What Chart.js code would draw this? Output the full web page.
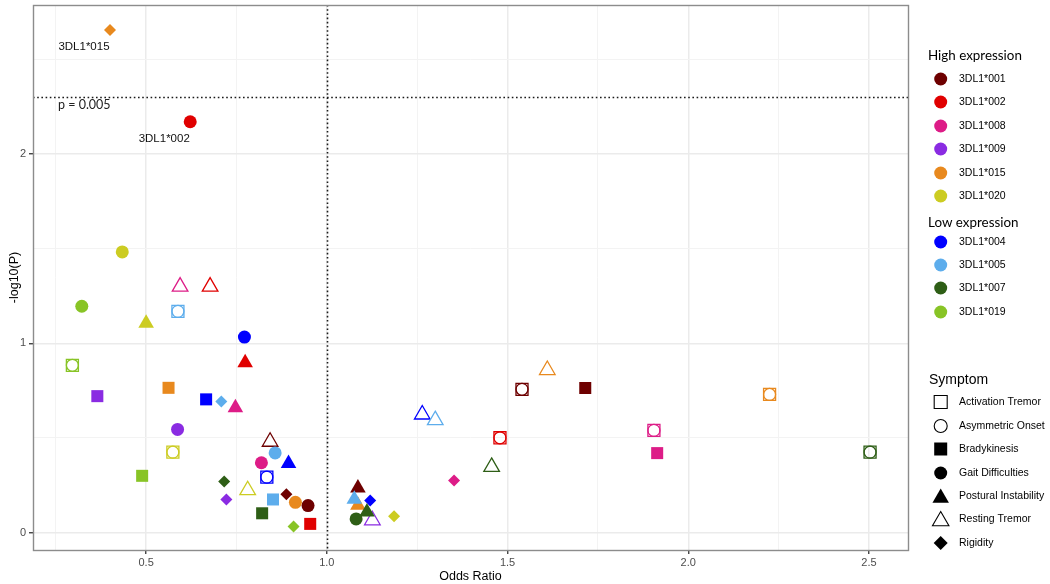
<!DOCTYPE html>
<html><head><meta charset="utf-8">
<script src="https://cdn.jsdelivr.net/npm/chart.js@4/dist/chart.umd.min.js"></script>
<style>html,body{margin:0;padding:0;background:#fff}#wrap{width:1050px;height:584px;position:relative}</style>
</head><body><div id="wrap"><canvas id="c" width="1050" height="584"></canvas></div>
<script>
// ---------- DATA ----------
const highAlleles = ['3DL1*001','3DL1*002','3DL1*008','3DL1*009','3DL1*015','3DL1*020'];
const lowAlleles  = ['3DL1*004','3DL1*005','3DL1*007','3DL1*019'];
const alleles = highAlleles.concat(lowAlleles);
const symptoms = ['Activation Tremor','Asymmetric Onset','Bradykinesis','Gait Difficulties','Postural Instability','Resting Tremor','Rigidity'];

// odds ratio / -log10(P) per symptom, in the order of `alleles` (null = not shown)
const activationTremorOR   = [1.540,1.479,1.905,null,2.225,0.574,0.834,0.588,2.503,0.296];
const activationTremorLogP = [0.757,0.501,0.540,null,0.730,0.425,0.293,1.169,0.425,0.884];
const asymmetricOnsetOR    = [1.540,1.479,1.905,null,2.225,0.574,0.834,0.588,2.503,0.296];
const asymmetricOnsetLogP  = [0.757,0.501,0.540,null,0.730,0.425,0.293,1.169,0.425,0.884];
const bradykinesisOR       = [1.715,0.954,1.914,0.365,0.562,null,0.666,0.851,0.821,0.489];
const bradykinesisLogP     = [0.764,0.046,0.420,0.721,0.765,null,0.704,0.175,0.102,0.300];
const gaitOR               = [0.948,0.622,0.819,0.587,0.913,0.434,0.772,0.857,1.081,0.322];
const gaitLogP             = [0.143,2.171,0.369,0.545,0.160,1.483,1.033,0.421,0.072,1.196];
const posturalOR           = [1.086,0.774,0.747,null,1.086,0.500,0.894,1.076,1.111,null];
const posturalLogP         = [0.236,0.898,0.660,null,0.145,1.106,0.365,0.176,0.109,null];
const restingTremorOR      = [0.843,0.677,0.594,1.126,1.610,0.781,1.264,1.300,1.456,null];
const restingTremorLogP    = [0.480,1.300,1.300,0.065,0.859,0.224,0.624,0.594,0.347,null];
const rigidityOR           = [0.888,null,1.352,0.722,0.400,1.186,1.120,0.708,0.716,0.908];
const rigidityLogP         = [0.203,null,0.275,0.175,2.656,0.086,0.169,0.693,0.270,0.032];

const xTickValues = [0.25,0.5,0.75,1.0,1.25,1.5,1.75,2.0,2.25,2.5];
const xTickLabels = ['', '0.5', '', '1.0', '', '1.5', '', '2.0', '', '2.5'];
const yTickValues = [0,0.5,1,1.5,2,2.5];
const yTickLabels = ['0','','1','','2',''];
const pThreshold = 0.005;
const labelledPoints = [{text:'3DL1*015', x:0.400, y:2.656}, {text:'3DL1*002', x:0.622, y:2.171}];

// ---------- STYLE ----------
const alleleColors = ['#6E0000','#E00000','#DD1C87','#8A2BE2','#E8891E','#CCCC22','#0000FF','#5DADEC','#2E5E16','#88C426'];
const symStyle = {
  'Activation Tremor':   {ps:'rect',     r:8.5, fill:false},
  'Asymmetric Onset':    {ps:'circle',   r:6,   fill:false},
  'Bradykinesis':        {ps:'rect',     r:8.5, fill:true},
  'Gait Difficulties':   {ps:'circle',   r:6.5, fill:true},
  'Postural Instability':{ps:'triangle', r:9,   fill:true},
  'Resting Tremor':      {ps:'triangle', r:9,   fill:false},
  'Rigidity':            {ps:'rectRot',  r:6,   fill:true}
};
const seriesData = {
  'Activation Tremor':[activationTremorOR, activationTremorLogP],
  'Asymmetric Onset':[asymmetricOnsetOR, asymmetricOnsetLogP],
  'Bradykinesis':[bradykinesisOR, bradykinesisLogP],
  'Gait Difficulties':[gaitOR, gaitLogP],
  'Postural Instability':[posturalOR, posturalLogP],
  'Resting Tremor':[restingTremorOR, restingTremorLogP],
  'Rigidity':[rigidityOR, rigidityLogP]
};

const datasets = symptoms.map(s => {
  const [ors, ps] = seriesData[s];
  const pts = [];
  alleles.forEach((a,i) => { if (ors[i] != null) pts.push({x:ors[i], y:ps[i], allele:i}); });
  const st = symStyle[s];
  return {
    label: s,
    data: pts,
    pointStyle: st.ps,
    pointRadius: st.r,
    pointHoverRadius: st.r,
    pointBackgroundColor: c => st.fill ? alleleColors[c.raw.allele] : 'rgba(0,0,0,0)',
    pointBorderColor: c => alleleColors[c.raw.allele],
    pointBorderWidth: st.fill ? 0 : 1.3,
    showLine: false
  };
});

function drawSymbol(ctx, ps, x, y, r, fill, color, lw) {
  ctx.save();
  ctx.fillStyle = color; ctx.strokeStyle = color; ctx.lineWidth = lw || 1.2;
  ctx.beginPath();
  if (ps === 'circle') ctx.arc(x, y, r, 0, Math.PI*2);
  else if (ps === 'rect') { const h = r; ctx.rect(x-h, y-h, 2*h, 2*h); }
  else if (ps === 'triangle') { ctx.moveTo(x, y-r); ctx.lineTo(x+r*0.866, y+r/2); ctx.lineTo(x-r*0.866, y+r/2); ctx.closePath(); }
  else if (ps === 'rectRot') { ctx.moveTo(x, y-r); ctx.lineTo(x+r, y); ctx.lineTo(x, y+r); ctx.lineTo(x-r, y); ctx.closePath(); }
  if (fill) ctx.fill(); else ctx.stroke();
  ctx.restore();
}

const overlay = {
  id:'overlay',
  beforeDatasetsDraw(chart) {
    const {ctx, chartArea:a, scales:{x, y}} = chart;
    ctx.save();
    ctx.strokeStyle = '#1a1a1a'; ctx.lineWidth = 1.6; ctx.setLineDash([1.6, 2.6]);
    const px = Math.round(x.getPixelForValue(1.0)) + 0.5;
    ctx.beginPath(); ctx.moveTo(px, a.top); ctx.lineTo(px, a.bottom); ctx.stroke();
    const py = Math.round(y.getPixelForValue(-Math.log10(pThreshold))) + 0.5;
    ctx.beginPath(); ctx.moveTo(a.left, py); ctx.lineTo(a.right, py); ctx.stroke();
    ctx.restore();
  },
  afterDatasetsDraw(chart) {
    const {ctx, chartArea:a, scales:{x, y}} = chart;
    ctx.save();
    ctx.fillStyle = '#111'; ctx.font = '11.5px "Liberation Sans", Arial, sans-serif';
    ctx.textAlign = 'center'; ctx.textBaseline = 'middle';
    labelledPoints.forEach(p => {
      ctx.fillText(p.text, x.getPixelForValue(p.x) - 26, y.getPixelForValue(p.y) + 17);
    });
    ctx.textAlign = 'left'; ctx.font = '12.5px Lato, "Open Sans", sans-serif'; ctx.fillStyle = '#222';
    ctx.fillText('p = ' + pThreshold, a.left + 25, y.getPixelForValue(-Math.log10(pThreshold)) + 8);
    // panel border
    ctx.strokeStyle = '#8c8c8c'; ctx.lineWidth = 1.4;
    ctx.strokeRect(a.left + 0.5, a.top + 0.5, a.right - a.left, a.bottom - a.top);
    ctx.restore();
  },
  afterDraw(chart) {
    const ctx = chart.ctx;
    ctx.save();
    ctx.textBaseline = 'middle'; ctx.textAlign = 'left'; ctx.fillStyle = '#000';
    const sx = 940.7, tx = 959;
    ctx.font = '13.4px Lato, "Open Sans", sans-serif';
    ctx.fillText('High expression', 928, 56);
    ctx.fillText('Low expression', 928, 223);
    const highY = [79,102,126,149,173,196];
    const lowY = [242,265,288,312];
    ctx.font = '10.5px "Liberation Sans", Arial, sans-serif';
    highAlleles.forEach((a,i) => {
      drawSymbol(ctx, 'circle', sx, highY[i], 6.5, true, alleleColors[i]);
      ctx.fillStyle = '#000'; ctx.fillText(a, tx, highY[i]);
    });
    lowAlleles.forEach((a,i) => {
      drawSymbol(ctx, 'circle', sx, lowY[i], 6.5, true, alleleColors[6+i]);
      ctx.fillStyle = '#000'; ctx.fillText(a, tx, lowY[i]);
    });
    ctx.font = '14px "Liberation Sans", Arial, sans-serif';
    ctx.fillText('Symptom', 929, 380);
    const symY = [402,426,449,473,496,519,543];
    const legSym = {
      'Activation Tremor':['rect',6.5,false],'Asymmetric Onset':['circle',6.5,false],'Bradykinesis':['rect',6.5,true],
      'Gait Difficulties':['circle',6.5,true],'Postural Instability':['triangle',9.5,true],'Resting Tremor':['triangle',9.5,false],'Rigidity':['rectRot',7,true]
    };
    ctx.font = '10.5px "Liberation Sans", Arial, sans-serif';
    symptoms.forEach((s,i) => {
      const [ps, r, f] = legSym[s];
      const yy = ps === 'triangle' ? symY[i] + 2 : symY[i];
      drawSymbol(ctx, ps, sx, yy, r, f, '#000', 1.1);
      ctx.fillStyle = '#000'; ctx.fillText(s, tx, symY[i]);
    });
    ctx.restore();
  }
};

const majorX = v => Math.abs(v*2 - Math.round(v*2)) < 1e-6;
const majorY = v => Math.abs(v - Math.round(v)) < 1e-6;

new Chart(document.getElementById('c'), {
  type: 'scatter',
  data: { datasets },
  plugins: [overlay],
  options: {
    responsive: false, animation: false, events: [],
    layout: { autoPadding: false, padding: { left: 0, top: 5, right: 142, bottom: 0 } },
    plugins: { legend: { display: false }, tooltip: { enabled: false } },
    scales: {
      x: {
        type: 'linear', min: 0.187, max: 2.608,
        afterBuildTicks: s => { s.ticks = xTickValues.map(v => ({value: v})); },
        afterFit: s => { s.height = 34; s.paddingLeft = 0; s.paddingRight = 0; },
        ticks: { autoSkip: false, maxRotation: 0, padding: 2, color: '#4D4D4D',
          font: { family: '"Liberation Sans", Arial, sans-serif', size: 11 },
          callback: (v, i) => xTickLabels[xTickValues.indexOf(v)] ?? '' },
        grid: { drawOnChartArea: true, drawTicks: true, tickLength: 4,
          color: c => (c.tick && majorX(c.tick.value)) ? '#EBEBEB' : '#F3F3F3',
          lineWidth: c => (c.tick && majorX(c.tick.value)) ? 1.5 : 1,
          tickColor: c => (c.tick && majorX(c.tick.value)) ? '#333' : 'rgba(0,0,0,0)', tickWidth: 1.3 },
        border: { display: false },
        title: { display: true, text: 'Odds Ratio', color: '#000', padding: { top: 0, bottom: 0 },
          font: { family: '"Liberation Sans", Arial, sans-serif', size: 12.5 } }
      },
      y: {
        type: 'linear', min: -0.092, max: 2.788,
        afterBuildTicks: s => { s.ticks = yTickValues.map(v => ({value: v})); },
        afterFit: s => { s.width = 33; s.paddingTop = 0; s.paddingBottom = 0; },
        ticks: { autoSkip: false, padding: 3, color: '#4D4D4D',
          font: { family: '"Liberation Sans", Arial, sans-serif', size: 11 },
          callback: (v) => yTickLabels[yTickValues.indexOf(v)] ?? '' },
        grid: { drawTicks: true, tickLength: 4,
          color: c => (c.tick && majorY(c.tick.value)) ? '#EBEBEB' : '#F3F3F3',
          lineWidth: c => (c.tick && majorY(c.tick.value)) ? 1.5 : 1,
          tickColor: c => (c.tick && majorY(c.tick.value)) ? '#333' : 'rgba(0,0,0,0)', tickWidth: 1.3 },
        border: { display: false },
        title: { display: true, text: '-log10(P)', color: '#000', padding: { top: 7, bottom: 0 },
          font: { family: '"Liberation Sans", Arial, sans-serif', size: 12.5 } }
      }
    }
  }
});
</script></body></html>
